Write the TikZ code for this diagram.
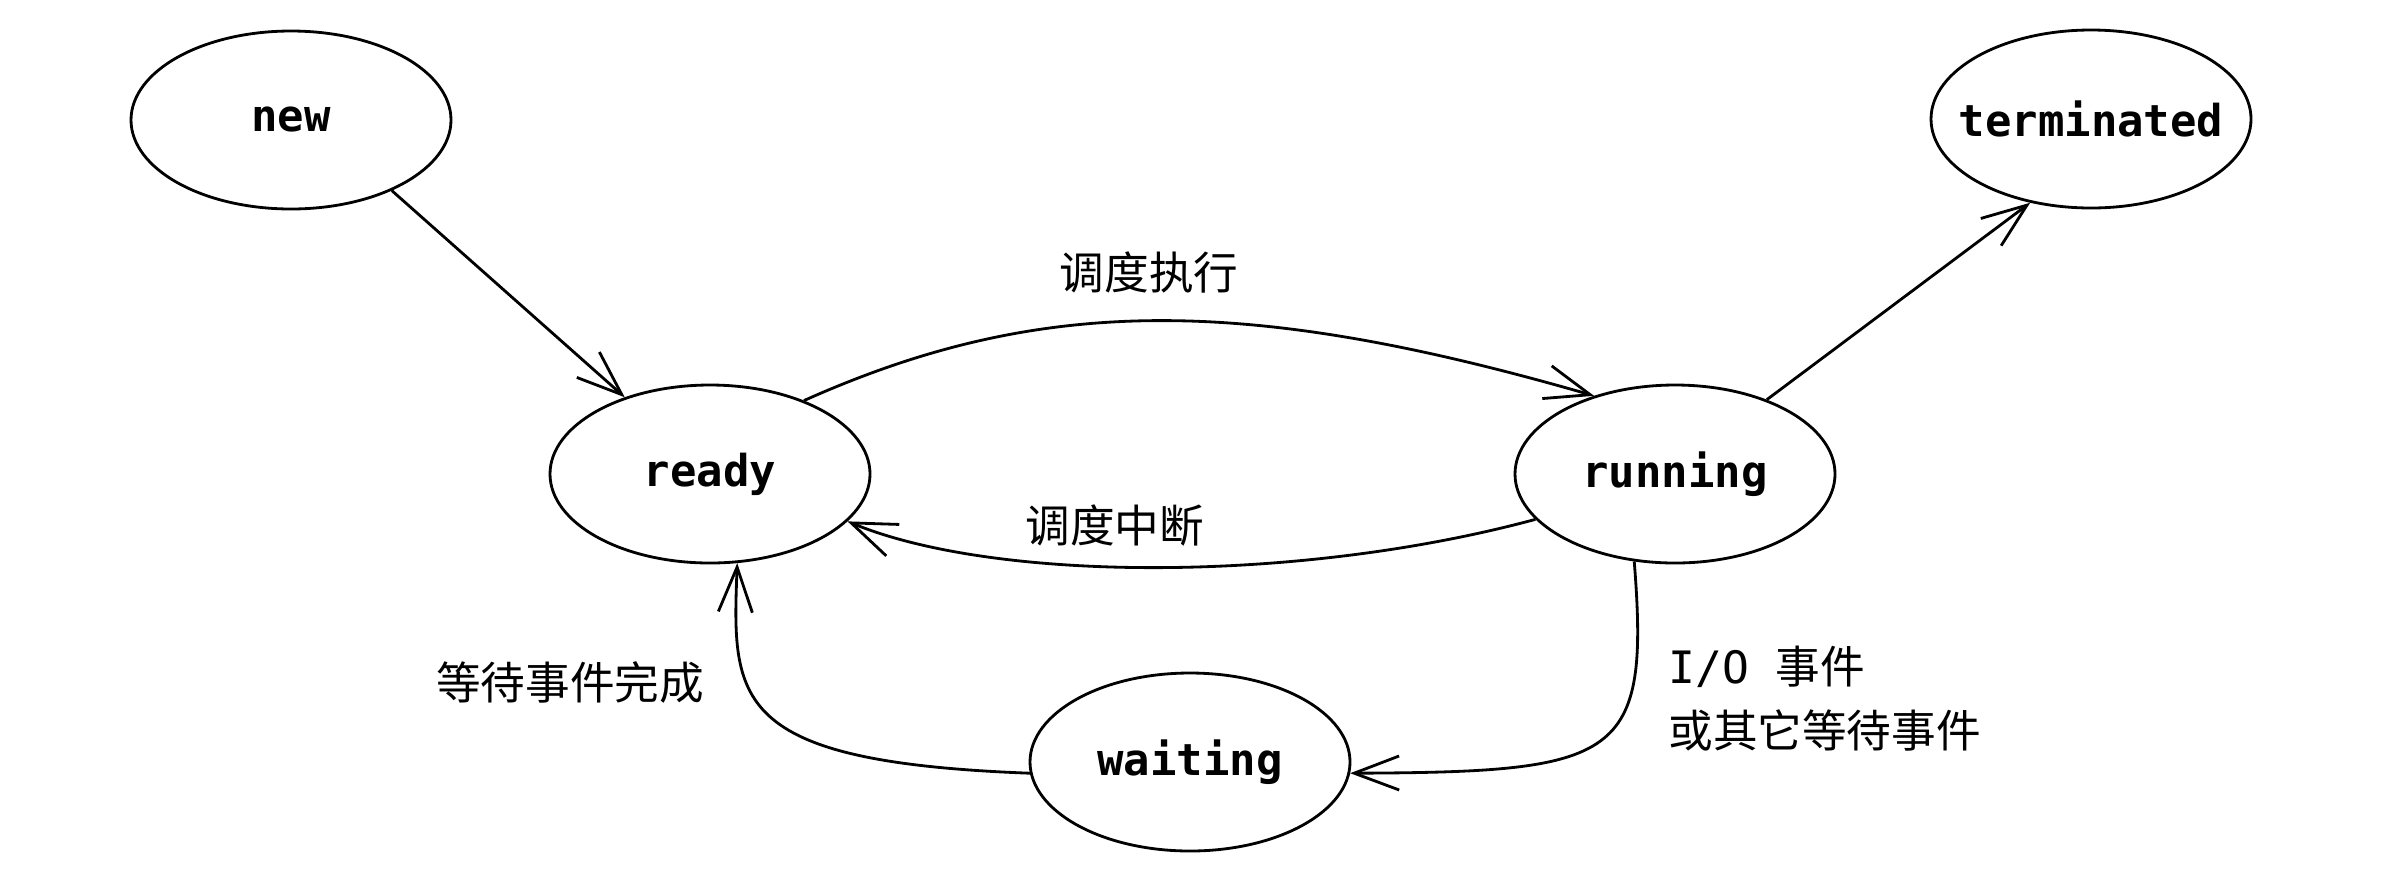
\documentclass[tikz,border=0pt]{standalone}
\usepackage{fontspec}
\setmainfont{Noto Sans CJK SC}
\setmonofont{DejaVu Sans Mono}
\usetikzlibrary{shapes.geometric,arrows.meta}

\tikzset{
  state/.style={ellipse, draw, line width=0.8pt, minimum width=3.2cm,
    minimum height=1.78cm, inner sep=0pt,
    font=\fontsize{12.5}{15}\selectfont\ttfamily\bfseries},
  trans/.style={line width=0.8pt, -{Straight Barb[length=4.5mm,width=3.4mm]}},
  lbl/.style={font=\fontsize{12.7}{18.2}\selectfont}
}
\newcommand{\stname}[1]{\makebox[0pt]{#1}}

\begin{document}
\begin{tikzpicture}
        \useasboundingbox (0,0) rectangle (23.88,-8.74);

        % Estados
        \node[state] (new) at (2.91,-1.20) {\stname{new}};
        \node[state] (ready) at (7.10,-4.74) {\stname{ready}};
        \node[state] (running) at (16.75,-4.74) {\stname{running}};
        \node[state] (terminated) at (20.91,-1.19) {\stname{terminated}};
        \node[state] (waiting) at (11.90,-7.62) {\stname{waiting}};

        % Transiciones
        \draw[trans] (new.-35) -- (ready.138);
        \draw[trans] (ready.38) .. controls (10.4,-2.95) and (12.45,-2.95) .. (running.136)
            node[lbl, pos=0.49, above=4pt] (sched) {调度执行};
        \draw[trans] (running.198) .. controls (13.0,-5.83) and (9.96,-5.83) .. (ready.-19)
            node[lbl, pos=0.56, above=2pt] (intr) {调度中断};
        \draw[trans] (running.39) -- (terminated.234);
        \draw[trans] (running.245) .. controls (16.5,-7.6) and (16.2,-7.72) .. (waiting.-4);
        \draw[trans] (waiting.184) .. controls (7.3,-7.62) and (7.32,-7.0) .. (ready.-73);

        % Etiquetas
        \node[lbl, anchor=west, align=left] (io) at (16.56,-6.99) {{\ttfamily I/O\ }事件\\或其它等待事件};
        \node[lbl] (done) at (5.70,-6.82) {等待事件完成};
\end{tikzpicture}
\end{document}
